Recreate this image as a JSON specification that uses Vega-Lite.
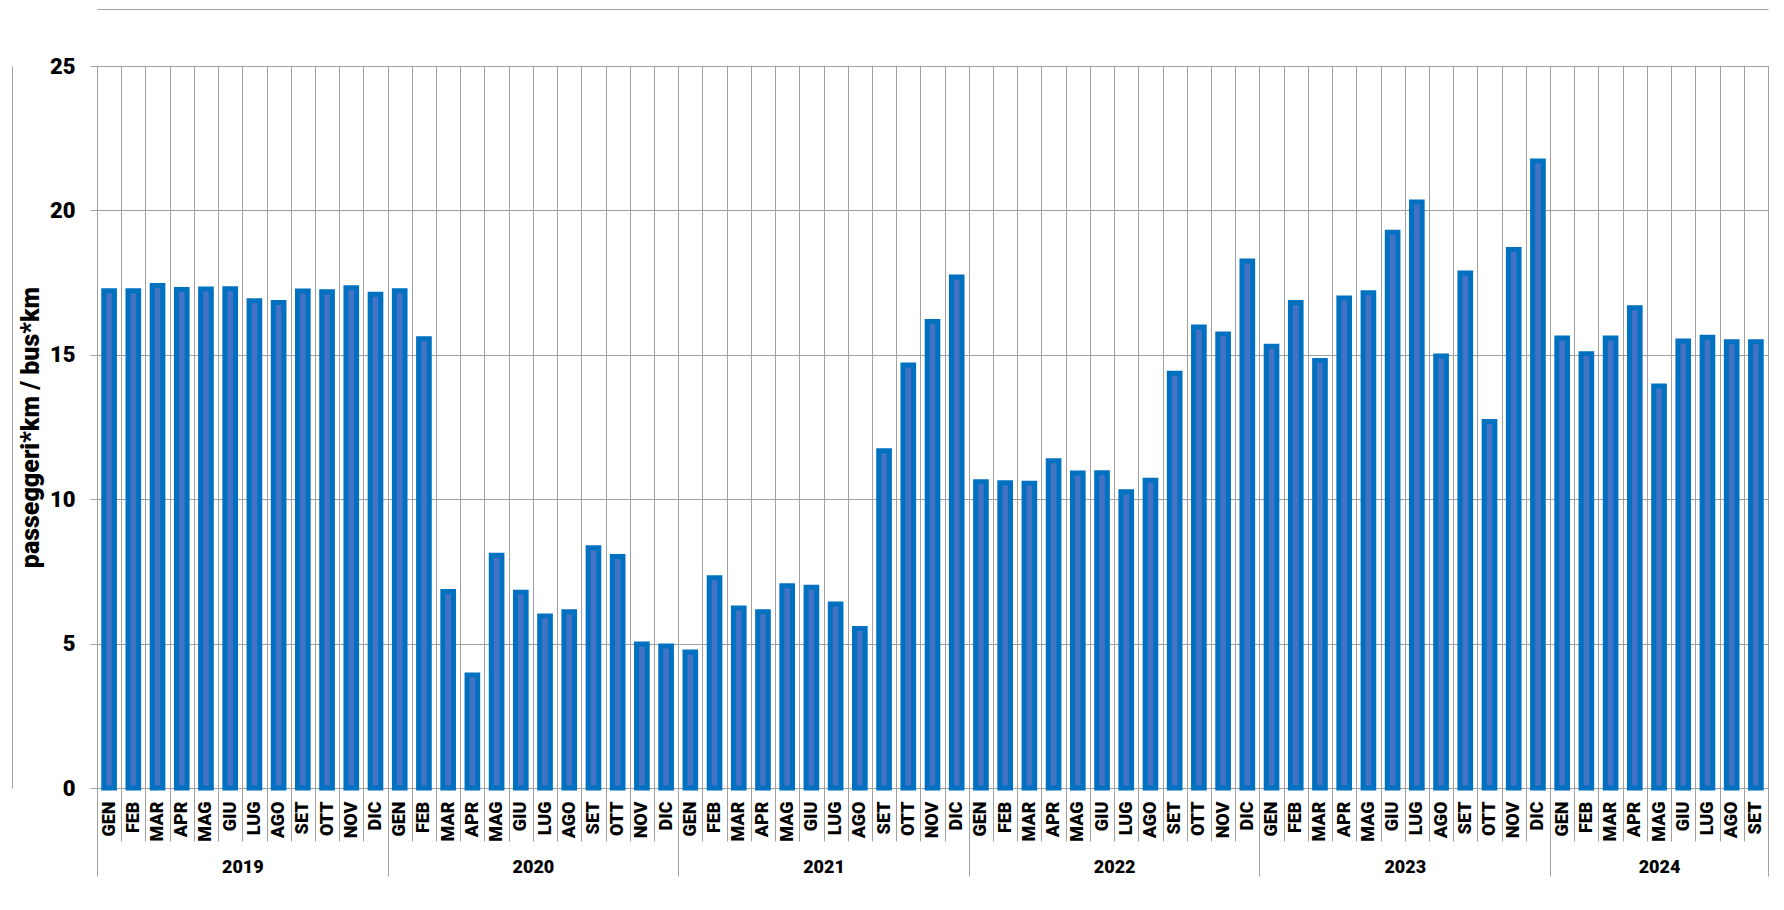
{
  "$schema": "https://vega.github.io/schema/vega-lite/v6.json",
  "autosize": {"type": "none"},
  "width": 1671,
  "height": 722,
  "padding": {"left": 97, "top": 66, "right": 16, "bottom": 122},
  "background": "white",
  "config": {
    "view": {"stroke": "#A0A0A0", "strokeWidth": 1},
    "axis": {
      "labelFont": "Roboto",
      "titleFont": "Roboto",
      "labelFontWeight": 900,
      "labelColor": "#000000",
      "gridColor": "#A0A0A0",
      "tickColor": "#A0A0A0",
      "domainColor": "#A0A0A0",
      "gridWidth": 1,
      "tickWidth": 1,
      "domainWidth": 1
    }
  },
  "data": {
    "values": [
      {"key": "2019-GEN", "anno": "2019", "mese": "GEN", "valore": 17.22},
      {"key": "2019-FEB", "anno": "2019", "mese": "FEB", "valore": 17.22},
      {"key": "2019-MAR", "anno": "2019", "mese": "MAR", "valore": 17.40},
      {"key": "2019-APR", "anno": "2019", "mese": "APR", "valore": 17.26},
      {"key": "2019-MAG", "anno": "2019", "mese": "MAG", "valore": 17.28},
      {"key": "2019-GIU", "anno": "2019", "mese": "GIU", "valore": 17.29},
      {"key": "2019-LUG", "anno": "2019", "mese": "LUG", "valore": 16.87},
      {"key": "2019-AGO", "anno": "2019", "mese": "AGO", "valore": 16.81},
      {"key": "2019-SET", "anno": "2019", "mese": "SET", "valore": 17.21},
      {"key": "2019-OTT", "anno": "2019", "mese": "OTT", "valore": 17.18},
      {"key": "2019-NOV", "anno": "2019", "mese": "NOV", "valore": 17.32},
      {"key": "2019-DIC", "anno": "2019", "mese": "DIC", "valore": 17.10},
      {"key": "2020-GEN", "anno": "2020", "mese": "GEN", "valore": 17.22},
      {"key": "2020-FEB", "anno": "2020", "mese": "FEB", "valore": 15.56},
      {"key": "2020-MAR", "anno": "2020", "mese": "MAR", "valore": 6.80},
      {"key": "2020-APR", "anno": "2020", "mese": "APR", "valore": 3.91},
      {"key": "2020-MAG", "anno": "2020", "mese": "MAG", "valore": 8.06},
      {"key": "2020-GIU", "anno": "2020", "mese": "GIU", "valore": 6.78},
      {"key": "2020-LUG", "anno": "2020", "mese": "LUG", "valore": 5.96},
      {"key": "2020-AGO", "anno": "2020", "mese": "AGO", "valore": 6.10},
      {"key": "2020-SET", "anno": "2020", "mese": "SET", "valore": 8.32},
      {"key": "2020-OTT", "anno": "2020", "mese": "OTT", "valore": 8.02},
      {"key": "2020-NOV", "anno": "2020", "mese": "NOV", "valore": 4.99},
      {"key": "2020-DIC", "anno": "2020", "mese": "DIC", "valore": 4.92},
      {"key": "2021-GEN", "anno": "2021", "mese": "GEN", "valore": 4.71},
      {"key": "2021-FEB", "anno": "2021", "mese": "FEB", "valore": 7.28},
      {"key": "2021-MAR", "anno": "2021", "mese": "MAR", "valore": 6.23},
      {"key": "2021-APR", "anno": "2021", "mese": "APR", "valore": 6.10},
      {"key": "2021-MAG", "anno": "2021", "mese": "MAG", "valore": 7.00},
      {"key": "2021-GIU", "anno": "2021", "mese": "GIU", "valore": 6.95},
      {"key": "2021-LUG", "anno": "2021", "mese": "LUG", "valore": 6.37},
      {"key": "2021-AGO", "anno": "2021", "mese": "AGO", "valore": 5.52},
      {"key": "2021-SET", "anno": "2021", "mese": "SET", "valore": 11.68},
      {"key": "2021-OTT", "anno": "2021", "mese": "OTT", "valore": 14.65},
      {"key": "2021-NOV", "anno": "2021", "mese": "NOV", "valore": 16.15},
      {"key": "2021-DIC", "anno": "2021", "mese": "DIC", "valore": 17.69},
      {"key": "2022-GEN", "anno": "2022", "mese": "GEN", "valore": 10.60},
      {"key": "2022-FEB", "anno": "2022", "mese": "FEB", "valore": 10.57},
      {"key": "2022-MAR", "anno": "2022", "mese": "MAR", "valore": 10.55},
      {"key": "2022-APR", "anno": "2022", "mese": "APR", "valore": 11.33},
      {"key": "2022-MAG", "anno": "2022", "mese": "MAG", "valore": 10.91},
      {"key": "2022-GIU", "anno": "2022", "mese": "GIU", "valore": 10.92},
      {"key": "2022-LUG", "anno": "2022", "mese": "LUG", "valore": 10.26},
      {"key": "2022-AGO", "anno": "2022", "mese": "AGO", "valore": 10.66},
      {"key": "2022-SET", "anno": "2022", "mese": "SET", "valore": 14.36},
      {"key": "2022-OTT", "anno": "2022", "mese": "OTT", "valore": 15.96},
      {"key": "2022-NOV", "anno": "2022", "mese": "NOV", "valore": 15.72},
      {"key": "2022-DIC", "anno": "2022", "mese": "DIC", "valore": 18.25},
      {"key": "2023-GEN", "anno": "2023", "mese": "GEN", "valore": 15.30},
      {"key": "2023-FEB", "anno": "2023", "mese": "FEB", "valore": 16.81},
      {"key": "2023-MAR", "anno": "2023", "mese": "MAR", "valore": 14.80},
      {"key": "2023-APR", "anno": "2023", "mese": "APR", "valore": 16.97},
      {"key": "2023-MAG", "anno": "2023", "mese": "MAG", "valore": 17.15},
      {"key": "2023-GIU", "anno": "2023", "mese": "GIU", "valore": 19.24},
      {"key": "2023-LUG", "anno": "2023", "mese": "LUG", "valore": 20.29},
      {"key": "2023-AGO", "anno": "2023", "mese": "AGO", "valore": 14.96},
      {"key": "2023-SET", "anno": "2023", "mese": "SET", "valore": 17.83},
      {"key": "2023-OTT", "anno": "2023", "mese": "OTT", "valore": 12.69},
      {"key": "2023-NOV", "anno": "2023", "mese": "NOV", "valore": 18.65},
      {"key": "2023-DIC", "anno": "2023", "mese": "DIC", "valore": 21.71},
      {"key": "2024-GEN", "anno": "2024", "mese": "GEN", "valore": 15.58},
      {"key": "2024-FEB", "anno": "2024", "mese": "FEB", "valore": 15.04},
      {"key": "2024-MAR", "anno": "2024", "mese": "MAR", "valore": 15.58},
      {"key": "2024-APR", "anno": "2024", "mese": "APR", "valore": 16.63},
      {"key": "2024-MAG", "anno": "2024", "mese": "MAG", "valore": 13.92},
      {"key": "2024-GIU", "anno": "2024", "mese": "GIU", "valore": 15.48},
      {"key": "2024-LUG", "anno": "2024", "mese": "LUG", "valore": 15.61},
      {"key": "2024-AGO", "anno": "2024", "mese": "AGO", "valore": 15.45},
      {"key": "2024-SET", "anno": "2024", "mese": "SET", "valore": 15.45}
    ]
  },
  "layer": [
    {
      "mark": {"type": "bar", "width": {"band": 0.44}, "fill": "#4472C4", "stroke": "#0070C0", "strokeWidth": 5},
      "encoding": {
        "x": {
          "field": "key", "type": "nominal", "sort": null,
          "scale": {"paddingInner": 0, "paddingOuter": 0},
          "axis": {
            "orient": "bottom", "title": null,
            "labelExpr": "isString(datum.value) ? split(datum.value, '-')[1] : ''",
            "labelAngle": 270, "labelAlign": "right", "labelBaseline": "middle",
            "labelFontSize": 18, "labelPadding": -40, "tickSize": 53,
            "tickBand": "extent", "grid": true, "domain": true,
            "labelOverlap": false, "labelBound": false, "labelFlush": false
          }
        },
        "y": {
          "field": "valore", "type": "quantitative",
          "scale": {"domain": [0, 25], "nice": false},
          "axis": {
            "values": [0, 5, 10, 15, 20, 25],
            "title": "passeggeri*km / bus*km",
            "titleFontSize": 25, "titleFontWeight": 900, "titleColor": "#000000",
            "titlePadding": 6,
            "labelFontSize": 22, "labelPadding": 15, "tickSize": 7,
            "domain": false, "grid": true
          }
        }
      }
    },
    {
      "mark": {"type": "bar", "opacity": 0},
      "encoding": {
        "x": {
          "field": "key", "type": "nominal", "sort": null,
          "axis": {
            "orient": "bottom", "title": null, "grid": false, "domain": false,
            "tickBand": "extent", "tickSize": 88,
            "tickOpacity": {"condition": {"test": "datum.extra || !isString(datum.value) || indexof(datum.value, 'DIC') >= 0 || datum.value == '2024-SET'", "value": 1}, "value": 0},
            "labelExpr": "isString(datum.value) && ((indexof(datum.value, 'GIU') >= 0 && indexof(datum.value, '2024') < 0) || datum.value == '2024-MAG') ? split(datum.value, '-')[0] : ''",
            "labelAngle": 0, "labelAlign": "center", "labelBaseline": "top",
            "labelFontSize": 18, "labelPadding": -18,
            "labelOffset": {"condition": {"test": "datum.value == '2024-MAG'", "value": 0}, "value": 12.11},
            "labelOverlap": false, "labelBound": false, "labelFlush": false
          }
        },
        "y": {
          "field": "valore", "type": "quantitative",
          "axis": {"orient": "left", "offset": 85, "domain": true, "ticks": false, "labels": false, "grid": false, "title": null}
        }
      }
    },
    {
      "mark": {"type": "bar", "opacity": 0},
      "encoding": {
        "x": {
          "field": "key", "type": "nominal", "sort": null,
          "axis": {"orient": "top", "offset": 57, "domain": true, "ticks": false, "labels": false, "grid": false, "title": null}
        },
        "y": {"field": "valore", "type": "quantitative", "axis": null}
      }
    }
  ],
  "resolve": {"axis": {"x": "independent", "y": "independent"}}
}
